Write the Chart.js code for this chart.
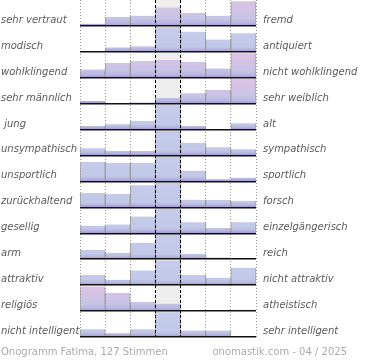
<!DOCTYPE html>
<html>
<head>
<meta charset="utf-8">
<script src="https://cdn.jsdelivr.net/npm/chart.js@4/dist/chart.umd.min.js"></script>
<style>
  body { margin: 0; background: #fff; }
  #wrap { position: relative; width: 370px; height: 360px; }
  .foot { position: absolute; top: 345px; font: 10px "DejaVu Sans", sans-serif; color: #aaa; line-height: 14px; white-space: nowrap; }
</style>
</head>
<body>
<div id="wrap">
  <canvas id="chart" width="370" height="360"></canvas>
  <div class="foot" style="left:1px">Onogramm Fatima, 127 Stimmen</div>
  <div class="foot" style="right:23px">onomastik.com - 04 / 2025</div>
</div>
<script>
// left / right poles of each scale
const leftLabels = ["sehr vertraut", "modisch", "wohlklingend", "sehr männlich", " jung", "unsympathisch",
  "unsportlich", "zurückhaltend", "gesellig", "arm", "attraktiv", "religiös", "nicht intelligent"];
const rightLabels = ["fremd", "antiquiert", "nicht wohlklingend", "sehr weiblich", "alt", "sympathisch",
  "sportlich", "forsch", "einzelgängerisch", "reich", "nicht attraktiv", "atheistisch", "sehr intelligent"];
const steps = ["1", "2", "3", "4", "5", "6", "7"];

// answers per step, relative to the most frequent answer of the row (= 100)
const vertraut     = [9, 37, 41, 75, 52, 41, 100];
const modisch      = [2, 18, 23, 100, 82, 50, 76];
const wohlklingend = [34, 60, 68, 72, 64, 38, 100];
const maennlich    = [11, 0, 5, 23, 42, 56, 100];
const jung         = [15, 22, 35, 100, 15, 0, 26];
const unsympath    = [30, 18, 18, 100, 52, 34, 26];
const unsportlich  = [79, 76, 76, 100, 44, 9, 15];
const zurueck      = [58, 54, 90, 100, 31, 30, 27];
const gesellig     = [31, 36, 68, 100, 45, 22, 45];
const arm          = [38, 26, 67, 100, 22, 7, 5];
const attraktiv    = [41, 22, 60, 100, 41, 30, 71];
const religioes    = [100, 73, 37, 30, 0, 0, 5];
const unintell     = [31, 15, 31, 100, 26, 26, 0];

const rows = [vertraut, modisch, wohlklingend, maennlich, jung, unsympath, unsportlich,
  zurueck, gesellig, arm, attraktiv, religioes, unintell];
const ROWS = rows.length;
const FILL = 0.95; // share of the row height used by the tallest bar

function rowGradient(ctx, r) {
  const chart = ctx.chart;
  if (!chart.chartArea) return "#c5cce9";
  const y = chart.scales.y;
  const base = ROWS - 1 - r;
  const top = y.getPixelForValue(base + 1);
  const bottom = y.getPixelForValue(base);
  const g = chart.ctx.createLinearGradient(0, top, 0, bottom);
  const row = rows[r];
  const pink = row.indexOf(Math.max(...row)) !== 3;
  if (pink) {
    g.addColorStop(0, "#ddc2e4");
    g.addColorStop(0.7, "#c8c4e6");
    g.addColorStop(0.88, "#b8b8e2");
    g.addColorStop(1, "#a294cc");
  } else {
    g.addColorStop(0, "#c6cdea");
    g.addColorStop(0.8, "#c2c8e8");
    g.addColorStop(0.9, "#b6b6e0");
    g.addColorStop(1, "#a094cc");
  }
  return g;
}

const datasets = rows.map((row, r) => {
  const base = ROWS - 1 - r;
  return {
    data: row.map(v => v > 0 ? [base, base + v / 100 * FILL] : null),
    backgroundColor: ctx => rowGradient(ctx, r),
    borderColor: "rgba(130,130,130,0.75)",
    borderWidth: { left: 1, right: 1, top: 0, bottom: 0 },
    borderSkipped: false
  };
});

// neutral column band
datasets.push({
  data: steps.map((s, i) => i === 3 ? [0, ROWS] : null),
  backgroundColor: "#eeeeee",
  borderWidth: 0
});

// no extra room above / below for the label axes
function fitY(width) {
  return s => { s.width = width; s.paddingTop = 0; s.paddingBottom = 0; };
}

Chart.defaults.font.family = "'DejaVu Sans', sans-serif";
Chart.defaults.font.size = 10;

new Chart(document.getElementById("chart"), {
  type: "bar",
  data: { labels: steps, datasets: datasets },
  options: {
    responsive: false,
    animation: false,
    layout: { padding: { left: 1, right: 0, top: 0, bottom: 23 } },
    datasets: { bar: { grouped: false, categoryPercentage: 1, barPercentage: 1 } },
    plugins: { legend: { display: false }, tooltip: { enabled: false } },
    scales: {
      x: {
        offset: true,
        ticks: { display: false },
        border: {
          display: false,
          dash: ctx => (ctx.index === 3 || ctx.index === 4) ? [3, 2] : [1, 2]
        },
        grid: {
          offset: true,
          drawTicks: false,
          z: 1,
          lineWidth: 1,
          color: ctx => (ctx.index === 3 || ctx.index === 4) ? "#000" : "#999"
        },
        afterFit: s => { s.height = 0; s.paddingLeft = 0; s.paddingRight = 0; }
      },
      y: {
        min: 0, max: ROWS,
        ticks: { display: false, stepSize: 1 },
        border: { display: false },
        grid: {
          drawTicks: false,
          z: 2,
          lineWidth: 1.5,
          color: ctx => ctx.tick && ctx.tick.value >= ROWS ? "rgba(0,0,0,0)" : "#111"
        },
        afterFit: fitY(0)
      },
      yl: {
        position: "left",
        min: 0, max: ROWS,
        border: { display: false },
        grid: { display: false, drawTicks: false },
        afterBuildTicks: s => { s.ticks = leftLabels.map((l, i) => ({ value: ROWS - 1 - i + 0.22 })); },
        ticks: {
          crossAlign: "far",
          color: "#5a5a5a",
          font: { style: "italic" },
          autoSkip: false,
          callback: (v, i) => leftLabels[i]
        },
        afterFit: fitY(79)
      },
      yr: {
        position: "right",
        min: 0, max: ROWS,
        border: { display: false },
        grid: { display: false, drawTicks: false },
        afterBuildTicks: s => { s.ticks = rightLabels.map((l, i) => ({ value: ROWS - 1 - i + 0.22 })); },
        ticks: {
          crossAlign: "near",
          padding: 7,
          color: "#5a5a5a",
          font: { style: "italic" },
          autoSkip: false,
          callback: (v, i) => rightLabels[i]
        },
        afterFit: fitY(114)
      }
    }
  }
});
</script>
</body>
</html>
